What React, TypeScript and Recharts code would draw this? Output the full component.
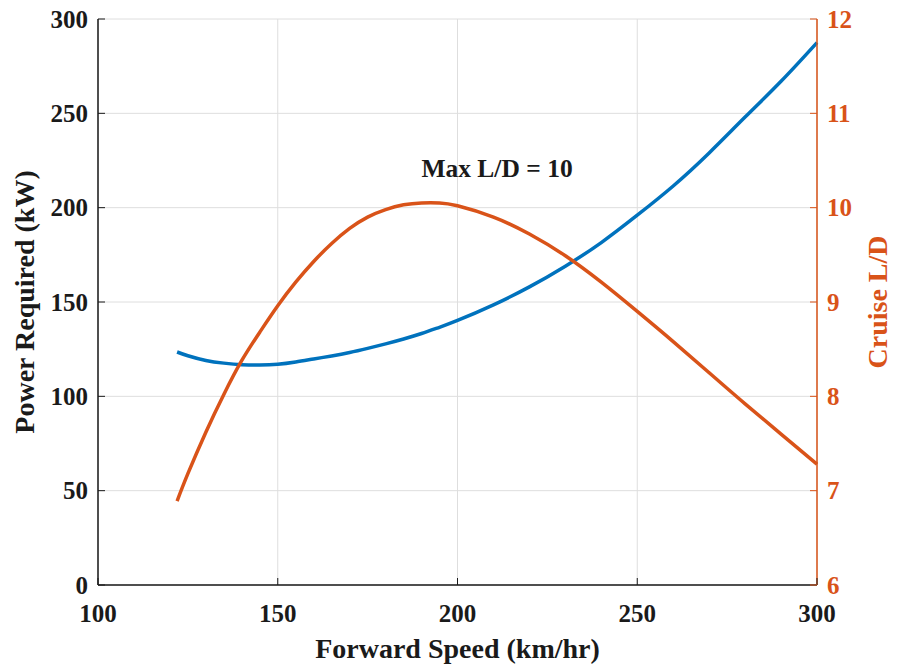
import { CartesianGrid, ComposedChart, Label, Line, ReferenceDot, XAxis, YAxis } from 'recharts';

// forward speed (km/hr)
const speeds = [122, 125, 130, 135, 140, 145, 150, 155, 160, 165, 170, 175, 180, 185, 190, 195, 200, 210, 220, 230, 240, 250, 260, 270, 280, 290, 300];
// power required (kW)
const power = [123.5, 121.5, 119, 117.6, 116.8, 116.6, 117, 118.2, 119.8, 121.4, 123.2, 125.4, 127.8, 130.4, 133.3, 136.6, 140.2, 148.5, 158, 169, 181.5, 196, 211.5, 229, 248, 267, 287.5];
// cruise L/D
const cruiseLD = [6.89, 7.18, 7.62, 8.02, 8.38, 8.68, 8.96, 9.21, 9.43, 9.62, 9.78, 9.9, 9.98, 10.03, 10.05, 10.05, 10.02, 9.9, 9.72, 9.49, 9.21, 8.9, 8.58, 8.25, 7.92, 7.6, 7.28];

const speedTicks = [100, 150, 200, 250, 300];
const powerTicks = [0, 50, 100, 150, 200, 250, 300];
const ldTicks = [6, 7, 8, 9, 10, 11, 12];

const data = speeds.map((s, i) => ({ speed: s, power: power[i], ld: cruiseLD[i] }));

const BLUE = '#0072BD';
const ORANGE = '#D95319';
const INK = '#1a1a1a';
const FONT = '"Liberation Serif", "Times New Roman", serif';

const tickText = { fontFamily: FONT, fontWeight: 'bold' as const, fontSize: 25 };

const BottomTick = ({ x, y, payload }: any) => (
    <g>
        <line x1={x} x2={x} y1={y} y2={y - 7} stroke={INK} strokeWidth={1} />
        <text x={x} y={y + 28} textAnchor="middle" dominantBaseline="central" fill={INK} {...tickText}>
            {payload.value}
        </text>
    </g>
);

const TopTick = ({ x, y }: any) => <line x1={x} x2={x} y1={y} y2={y + 7} stroke={INK} strokeWidth={1} />;

const LeftTick = ({ x, y, payload }: any) => (
    <g>
        <line x1={x} x2={x + 7} y1={y} y2={y} stroke={INK} strokeWidth={1} />
        <text x={x - 10} y={y} textAnchor="end" dominantBaseline="central" fill={INK} {...tickText}>
            {payload.value}
        </text>
    </g>
);

const RightTick = ({ x, y, payload }: any) => (
    <g>
        <line x1={x} x2={x - 7} y1={y} y2={y} stroke={ORANGE} strokeWidth={1} />
        <text x={x + 10} y={y} textAnchor="start" dominantBaseline="central" fill={ORANGE} {...tickText}>
            {payload.value}
        </text>
    </g>
);

const AxisTitle = ({ viewBox, text, side, color }: any) => {
    const { x, y, width, height } = viewBox;
    let cx = x + width / 2;
    let cy = y + height / 2;
    let rot = 0;
    if (side === 'left') { cx = x + 24; rot = -90; }
    if (side === 'right') { cx = x + 60; rot = -90; }
    if (side === 'bottom') { cy = y + 63; }
    return (
        <text
            x={cx}
            y={cy}
            transform={rot ? `rotate(${rot} ${cx} ${cy})` : undefined}
            textAnchor="middle"
            dominantBaseline="central"
            fill={color}
            fontFamily={FONT}
            fontWeight="bold"
            fontSize={28}
        >
            {text}
        </text>
    );
};

const Note = ({ viewBox }: any) => (
    <text x={viewBox.x} y={viewBox.y} textAnchor="middle" dominantBaseline="central" fill={INK} {...tickText} fontSize={25.5}>
        Max L/D = 10
    </text>
);

export default function App() {
    return (
        <div style={{ position: 'absolute', left: 0, top: 0, background: '#fff' }}>
            <ComposedChart width={901} height={665} data={data} margin={{ top: 19, right: 0, bottom: 0, left: 0 }}>
                <CartesianGrid xAxisId="b" yAxisId="left" stroke="#dedede" strokeWidth={1} />
                <XAxis
                    xAxisId="b"
                    dataKey="speed"
                    type="number"
                    domain={[100, 300]}
                    ticks={speedTicks}
                    height={80}
                    stroke={INK}
                    strokeWidth={1.5}
                    tickLine={false}
                    tickSize={0}
                    tickMargin={0}
                    tick={<BottomTick />}
                    interval={0}
                >
                    <Label content={<AxisTitle text="Forward Speed (km/hr)" side="bottom" color={INK} />} />
                </XAxis>
                <XAxis
                    xAxisId="t"
                    orientation="top"
                    dataKey="speed"
                    type="number"
                    domain={[100, 300]}
                    ticks={speedTicks}
                    height={0}
                    stroke={INK}
                    strokeWidth={1.5}
                    tickLine={false}
                    tickSize={0}
                    tick={<TopTick />}
                    interval={0}
                />
                <YAxis
                    yAxisId="left"
                    domain={[0, 300]}
                    ticks={powerTicks}
                    width={98}
                    stroke={INK}
                    strokeWidth={1.5}
                    tickLine={false}
                    tickSize={0}
                    tickMargin={0}
                    tick={<LeftTick />}
                    interval={0}
                >
                    <Label content={<AxisTitle text="Power Required (kW)" side="left" color={INK} />} />
                </YAxis>
                <YAxis
                    yAxisId="right"
                    orientation="right"
                    domain={[6, 12]}
                    ticks={ldTicks}
                    width={84}
                    stroke={ORANGE}
                    strokeWidth={1.5}
                    tickLine={false}
                    tickSize={0}
                    tickMargin={0}
                    tick={<RightTick />}
                    interval={0}
                >
                    <Label content={<AxisTitle text="Cruise L/D" side="right" color={ORANGE} />} />
                </YAxis>
                <Line
                    xAxisId="b"
                    yAxisId="left"
                    type="natural"
                    dataKey="power"
                    stroke={BLUE}
                    strokeWidth={3.5}
                    dot={false}
                    activeDot={false}
                    isAnimationActive={false}
                />
                <Line
                    xAxisId="b"
                    yAxisId="right"
                    type="natural"
                    dataKey="ld"
                    stroke={ORANGE}
                    strokeWidth={3.5}
                    dot={false}
                    activeDot={false}
                    isAnimationActive={false}
                />
                <ReferenceDot xAxisId="b" yAxisId="left" x={211} y={221} r={0} fill="none" stroke="none" label={<Note />} />
            </ComposedChart>
        </div>
    );
}
